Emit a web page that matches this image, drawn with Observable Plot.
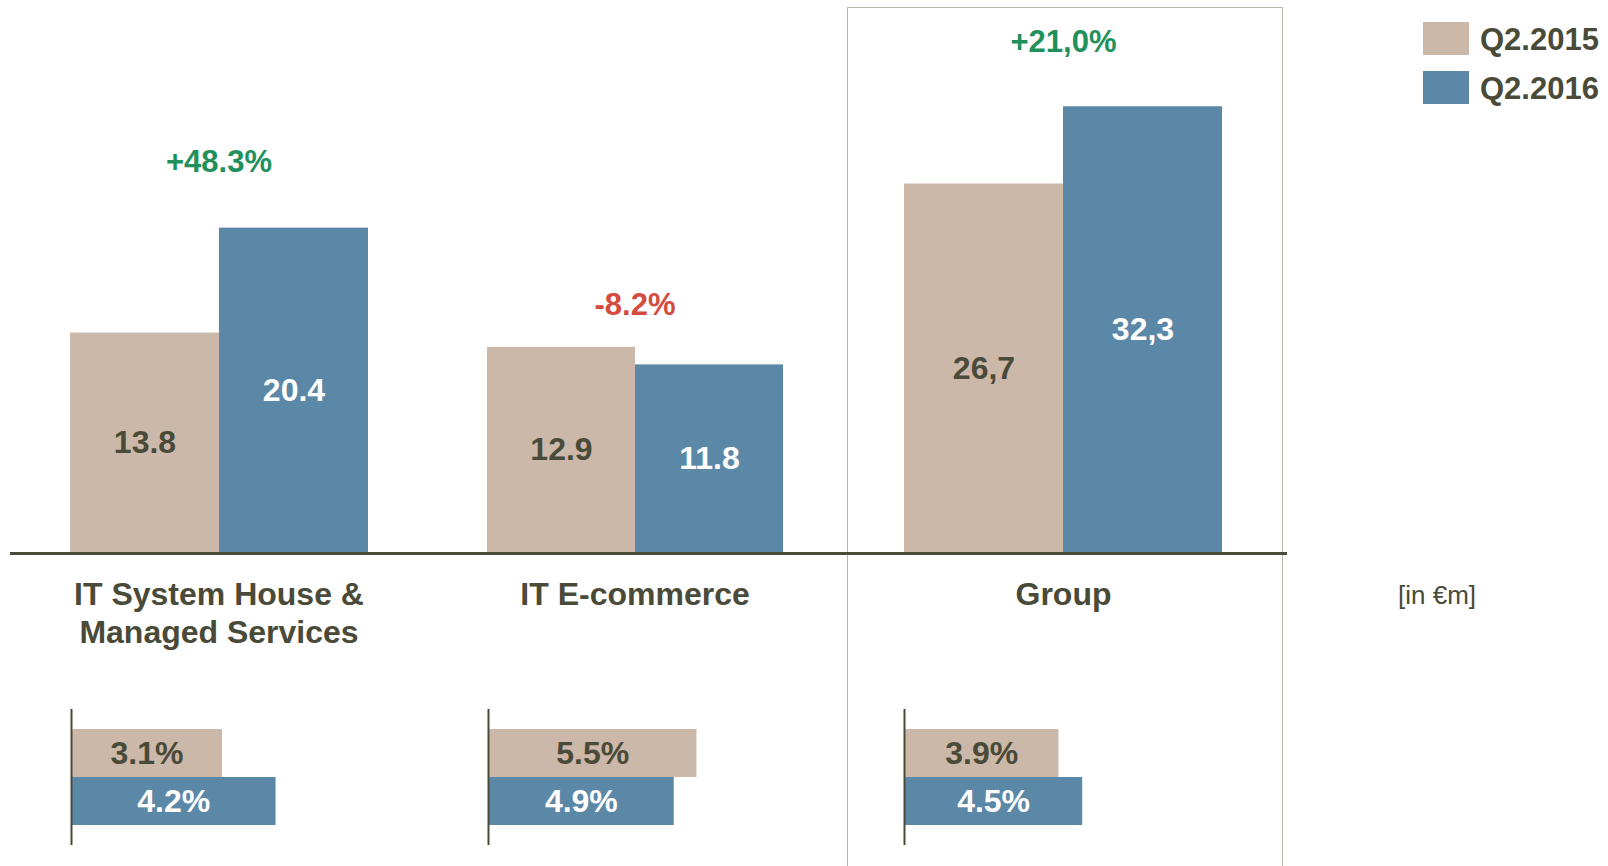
<!DOCTYPE html>
<html>
<head>
<meta charset="utf-8">
<script src="https://cdn.jsdelivr.net/npm/d3@7"></script>
<script src="https://cdn.jsdelivr.net/npm/@observablehq/plot@0.6"></script>
<style>
  html, body { margin: 0; padding: 0; background: #ffffff; }
  #stage { position: relative; width: 1608px; height: 866px; overflow: hidden;
           font-family: "Liberation Sans", Arial, sans-serif; color: #4a4a38; }
  .abs { position: absolute; }
  .abs svg { overflow: visible; }
  #legend .item { position: absolute; left: 0; height: 34px; }
  #legend .sw { position: absolute; left: 0; width: 46px; height: 33px; }
  #legend .lb { position: absolute; left: 57px; top: 50%; transform: translateY(-50%);
                font-size: 31px; font-weight: bold; white-space: nowrap; line-height: 1; }
</style>
</head>
<body>
<div id="stage"></div>
<script>
// ---------- data ----------
const segments = ["IT System House &\nManaged Services", "IT E-commerce", "Group"];
const series = ["Q2.2015", "Q2.2016"];
const revenue2015 = [13.8, 12.9, 26.7];   // [in €m]
const revenue2016 = [20.4, 11.8, 32.3];
const change = [48.3, -8.2, 21.0];         // % change
const margin2015 = [3.1, 5.5, 3.9];        // %
const margin2016 = [4.2, 4.9, 4.5];
const decimalSep = [".", ".", ","];
const unitLabel = "[in €m]";
const colors = ["#cbb8a9", "#5c88a8"];
const labelColors = ["#4a4a38", "#ffffff"];

// ---------- layout (positions / sizes, not data) ----------
const TEXT = "#4a4a38";
const GREEN = "#21905a";
const RED = "#d44b40";
const baseY = 552;
const panels = [
  {left: 69,  width: 299, pxPerUnit: 15.9,  changeDy: -66, mLeft: 71,    pxPerPct: 48.7},
  {left: 486, width: 297, pxPerUnit: 15.9,  changeDy: -42, mLeft: 487.5, pxPerPct: 37.9},
  {left: 904, width: 318, pxPerUnit: 13.8,  changeDy: -65, mLeft: 903.5, pxPerPct: 39.6}
];

const stage = document.getElementById("stage");
const fmt = (v, sep) => v.toFixed(1).replace(".", sep);

// group frame
const box = document.createElement("div");
box.className = "abs";
Object.assign(box.style, {left: "847px", top: "7px", width: "436px", height: "900px",
  border: "1.5px solid #b9b9ab", borderBottom: "none", boxSizing: "border-box"});
stage.appendChild(box);

segments.forEach((seg, i) => {
  const P = panels[i];
  const rows = series.map((s, j) => ({segment: seg, series: s, value: [revenue2015, revenue2016][j][i]}));
  const H = 680;
  const chart = Plot.plot({
    width: P.width, height: H,
    marginTop: 0, marginBottom: H - baseY, marginLeft: 0, marginRight: 0,
    style: {fontFamily: "'Liberation Sans', Arial, sans-serif", color: TEXT, background: "transparent", overflow: "visible"},
    fx: {domain: [seg], padding: 0, label: null},
    x: {domain: series, padding: 0, axis: null},
    y: {domain: [0, baseY / P.pxPerUnit], axis: null},
    color: {domain: series, range: colors},
    marks: [
      Plot.barY(rows, {fx: "segment", x: "series", y: "value", fill: "series"}),
      Plot.text(rows, {fx: "segment", x: "series", y: d => d.value / 2,
        text: d => fmt(d.value, decimalSep[i]),
        fill: d => labelColors[series.indexOf(d.series)],
        fontSize: 32, fontWeight: "bold", lineAnchor: "middle"}),
      Plot.text([{segment: seg, top: Math.max(revenue2015[i], revenue2016[i]), c: change[i]}], {
        fx: "segment", y: "top", dy: P.changeDy,
        text: d => (d.c > 0 ? "+" : "") + fmt(d.c, decimalSep[i]) + "%",
        fill: d => d.c >= 0 ? GREEN : RED,
        fontSize: 31, fontWeight: "bold", lineAnchor: "middle"}),
      Plot.axisFx({anchor: "bottom", label: null, tickSize: 0, tickPadding: 25,
        fontSize: 32, fontWeight: "bold", lineHeight: 1.19, fill: TEXT})
    ]
  });
  const wrap = document.createElement("div");
  wrap.className = "abs";
  wrap.style.left = P.left + "px";
  wrap.style.top = "0px";
  wrap.appendChild(chart);
  stage.appendChild(wrap);

  // margin chart
  const mrows = series.map((s, j) => ({series: s, value: [margin2015, margin2016][j][i]}));
  const MW = 300, ML = 10, MR = 10, MH = 136;
  const mchart = Plot.plot({
    width: MW, height: MH, marginTop: 0, marginBottom: 0, marginLeft: ML, marginRight: MR,
    style: {fontFamily: "'Liberation Sans', Arial, sans-serif", color: TEXT, background: "transparent", overflow: "visible"},
    x: {domain: [0, (MW - ML - MR) / P.pxPerPct], axis: null},
    y: {domain: series, paddingInner: 0, paddingOuter: 0.388, axis: null},
    color: {domain: series, range: colors},
    marks: [
      Plot.barX(mrows, {x: "value", y: "series", fill: "series"}),
      Plot.text(mrows, {x: d => d.value / 2, y: "series",
        text: d => d.value.toFixed(1) + "%",
        fill: d => labelColors[series.indexOf(d.series)],
        fontSize: 32, fontWeight: "bold", lineAnchor: "middle"}),
      Plot.ruleX([0], {stroke: "#4a4a38", strokeWidth: 2})
    ]
  });
  const mwrap = document.createElement("div");
  mwrap.className = "abs";
  mwrap.style.left = (P.mLeft - ML) + "px";
  mwrap.style.top = "709px";
  mwrap.appendChild(mchart);
  stage.appendChild(mwrap);
});

// baseline across the panels
const base = document.createElement("div");
base.className = "abs";
Object.assign(base.style, {left: "10px", top: (baseY) + "px", width: "1277px", height: "2.5px", background: "#4a4a38"});
stage.appendChild(base);

// unit label
const unit = document.createElement("div");
unit.className = "abs";
Object.assign(unit.style, {left: "1437px", top: "595px", transform: "translate(-50%,-50%)",
  fontSize: "26px", whiteSpace: "nowrap", lineHeight: "1", color: TEXT});
unit.textContent = unitLabel;
stage.appendChild(unit);

// legend
const legend = document.createElement("div");
legend.id = "legend";
legend.className = "abs";
Object.assign(legend.style, {left: "1423px", top: "22px", width: "185px", height: "90px"});
series.forEach((s, j) => {
  const it = document.createElement("div");
  it.className = "item";
  it.style.top = (j * 49) + "px";
  it.style.width = "185px";
  it.innerHTML = `<div class="sw" style="background:${colors[j]}"></div><div class="lb">${s}</div>`;
  legend.appendChild(it);
});
stage.appendChild(legend);
</script>
</body>
</html>
